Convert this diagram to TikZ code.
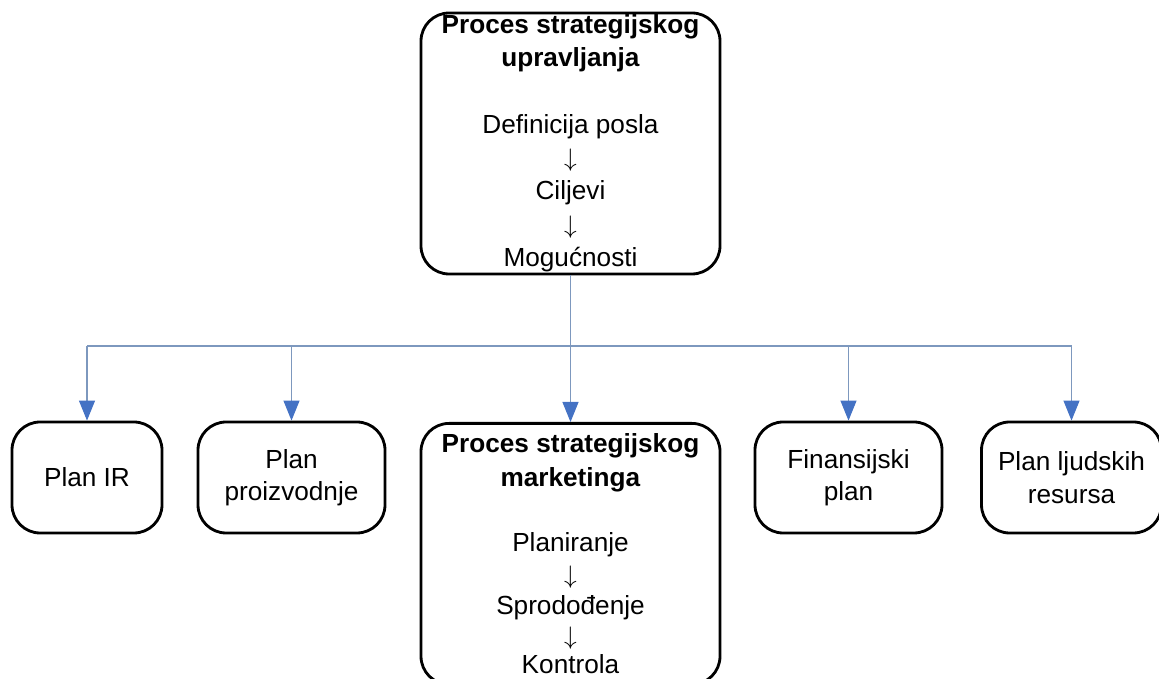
\documentclass[tikz,border=0pt]{standalone}
\usepackage{fontspec}
\setmainfont{Liberation Sans}
\usepackage{tikz}
\usetikzlibrary{calc,arrows.meta,positioning}
\usepackage{xcolor}

\definecolor{veza}{RGB}{125,152,190}
\definecolor{vrh}{RGB}{68,114,196}

\tikzset{
	kutija/.style={draw=black,line width=1.6pt,rounded corners=16pt,align=center,
		inner sep=0pt,font=\fontsize{14.9}{18.5}\selectfont},
	velika/.style={kutija,minimum width=5.98cm,minimum height=5.22cm},
	veza/.style={draw=veza,line width=0.6pt},
	strelica/.style={veza,-{Triangle[width=0.32cm,length=0.4cm,color=vrh,fill=vrh]}}
}

\begin{document}
\begin{tikzpicture}
		\clip (0,0) rectangle (23.18,-13.58);
		% gornji okvir
		\node[velika] (upr) at (11.41,-2.87)
		{\textbf{Proces strategijskog}\\\textbf{upravljanja}\\[19.5pt]
			Definicija posla\\[0.5pt]$\downarrow$\\[0.5pt]Ciljevi\\[0.5pt]$\downarrow$\\[0.5pt]Mogućnosti};
		% donji red
		\node[kutija,minimum width=3cm,minimum height=2.22cm] (ir) at (1.74,-9.55) {Plan IR};
		\node[kutija,minimum width=3.74cm,minimum height=2.22cm] (proiz) at (5.83,-9.55) {Plan\\proizvodnje};
		\node[velika,anchor=north] (mark) at (11.41,-8.44)
		{\textbf{Proces strategijskog}\\[0.5pt]\textbf{marketinga}\\[18.5pt]
			Planiranje\\[-0.5pt]$\downarrow$\\[-0.5pt]Sprodođenje\\[-1.5pt]$\downarrow$\\[-2pt]Kontrola};
		\node[kutija,minimum width=3.74cm,minimum height=2.22cm] (fin) at (16.97,-9.55) {Finansijski\\plan};
		\node[kutija,minimum width=3.6cm,minimum height=2.22cm] (ljud) at (21.43,-9.55) {Plan ljudskih\\resursa};
		% veze
		\coordinate (grana) at (11.41,-6.92);
		\draw[veza] (upr.south) -- (grana);
		\draw[veza] (grana -| ir.north) -- (grana -| ljud.north);
		\foreach \n in {ir,proiz,mark,fin,ljud}
		\draw[strelica] (grana -| \n.north) -- (\n.north);
	\end{tikzpicture}
\end{document}
